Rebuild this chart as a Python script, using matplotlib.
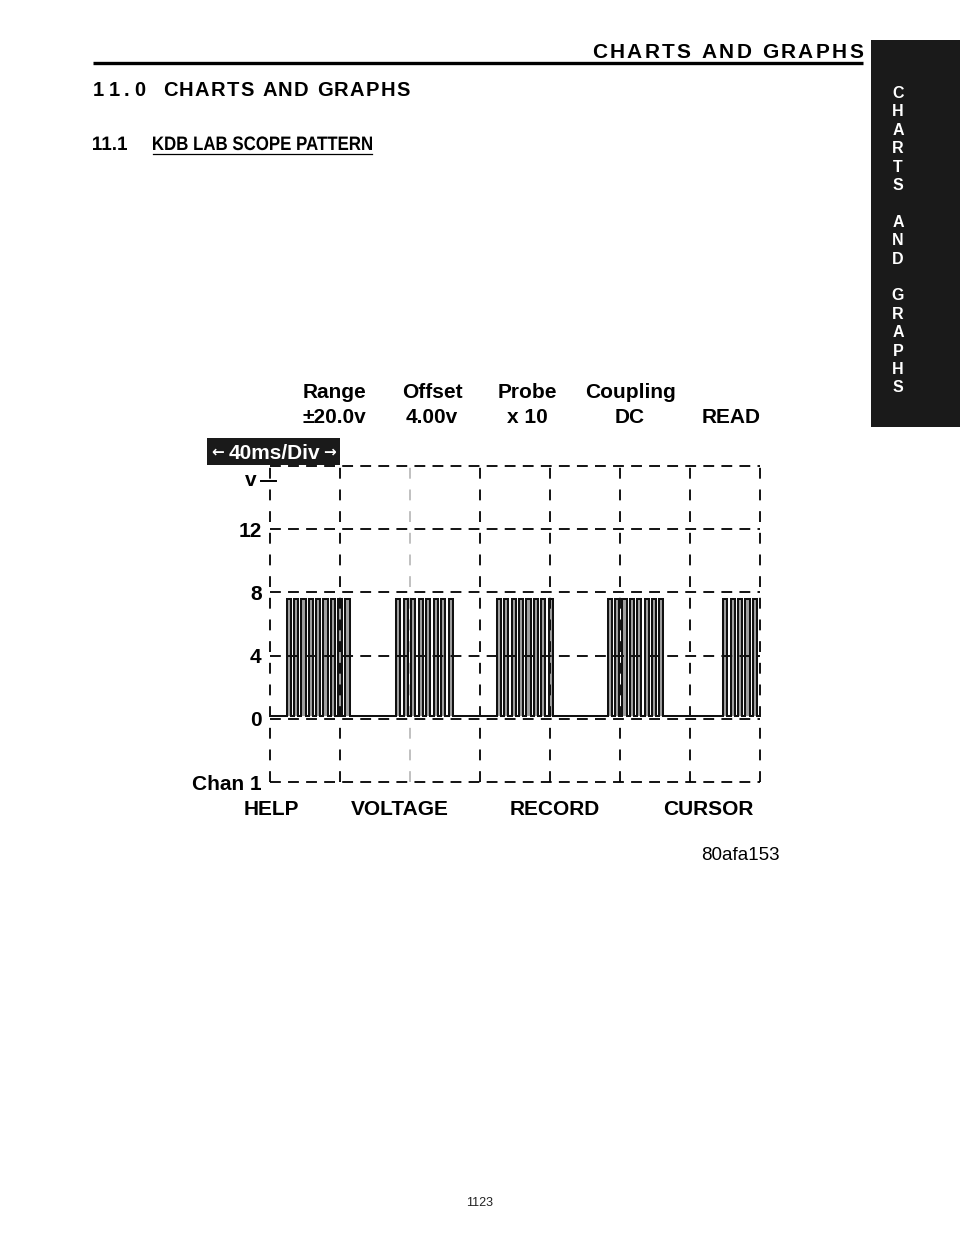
import matplotlib
matplotlib.use('Agg')
import matplotlib.pyplot as plt
from matplotlib.patches import Rectangle, PathPatch
from matplotlib.textpath import TextPath
from matplotlib.font_manager import FontProperties
from matplotlib.transforms import Affine2D

# scope trace: time in ms, level in volts
burst_start = [9.5, 72.0, 129.5, 193.0, 259.0]
burst_pulses = [9, 8, 8, 8, 5]
pulse_period = [4.2, 4.3, 4.25, 4.2, 4.2]
pulse_high = 2.4
v_high = 7.6
v_low = 0.2
t_end = 280

time_divs = [0, 40, 80, 120, 160, 200, 240, 280]
volt_divs = [-4, 0, 4, 8, 12, 16]
volt_ticks = [-4, 0, 4, 8, 12]
volt_labels = ['Chan 1', '0', '4', '8', '12']

scope_head = [('Range', '±20.0v'), ('Offset', '4.00v'), ('Probe', 'x 10'),
              ('Coupling', 'DC'), ('', 'READ')]
soft_keys = ['HELP', 'VOLTAGE', 'RECORD', 'CURSOR']

plt.rcParams['font.family'] = ['Liberation Sans', 'DejaVu Sans']

fig = plt.figure(figsize=(9.6, 12.42), dpi=100)
page = fig.add_axes([0, 0, 1, 1])
page.set_xlim(0, 960)
page.set_ylim(1242, 0)
page.axis('off')
renderer = fig.canvas.get_renderer()


def measure(s, **kw):
    if s == ' ':
        return 0.28 * kw.get('fontsize', 10) * 100 / 72
    t = page.text(0, 0, s, **kw)
    w = t.get_window_extent(renderer).width
    t.remove()
    return w


def tracked(x0, x1, y, s, **kw):
    # letter-spaced text stretched between x0 and x1
    widths = [measure(c, **kw) for c in s]
    gap = (x1 - x0 - sum(widths)) / (len(s) - 1)
    x = x0
    for c, w in zip(s, widths):
        page.text(x, y, c, ha='left', va='baseline', **kw)
        x += w + gap


def narrow_text(x, y, s, size, width):
    # condensed bold text, squeezed to the given width
    tp = TextPath((0, 0), s, size=size,
                  prop=FontProperties(family='Liberation Sans', weight='bold'))
    ext = tp.get_extents()
    sx = width / ext.width
    tr = Affine2D().translate(-ext.x0, 0).scale(sx, -1).translate(x, y) + page.transData
    page.add_patch(PathPatch(tp, transform=tr, color='black', lw=0))


# page header
tracked(592, 863, 58, 'CHARTS AND GRAPHS', fontsize=15, fontweight='bold')
page.plot([93, 863], [63, 63], color='black', lw=2.4, solid_capstyle='butt')
tracked(93, 145, 96, '11.0', fontsize=14.5, fontweight='bold')
tracked(163, 410, 96, 'CHARTS AND GRAPHS', fontsize=14.5, fontweight='bold')
narrow_text(93, 150, '11.1', 19.5, 34)
narrow_text(153, 150, 'KDB LAB SCOPE PATTERN', 19.5, 219)
page.plot([153, 372], [153.5, 153.5], color='black', lw=0.9)

# side tab
page.add_patch(Rectangle((871, 40), 89, 387, color='#1a1a1a', lw=0))
for i, c in enumerate('CHARTS AND GRAPHS'):
    page.text(898, 98 + i * 18.4, c, color='white', fontsize=11.5, fontweight='bold',
              ha='center', va='baseline')

# scope settings
head_x = [334, 432, 527, 630, 731]
for x, (top, bot) in zip(head_x, scope_head):
    page.text(x, 398, top, fontsize=15, fontweight='bold', ha='center', va='baseline')
    page.text(x, 423, bot, fontsize=15, fontweight='bold', ha='center', va='baseline')

page.add_patch(Rectangle((207, 438), 133, 27, color='#1a1a1a', lw=0))
page.text(274, 459, '40ms/Div', color='white', fontsize=15, fontweight='bold',
          ha='center', va='baseline')
page.text(218, 452, '←', color='white', fontsize=11, fontweight='bold',
          family='DejaVu Sans', ha='center', va='center')
page.text(330, 452, '→', color='white', fontsize=11, fontweight='bold',
          family='DejaVu Sans', ha='center', va='center')

page.text(251, 486, 'v', fontsize=15, fontweight='bold', ha='center', va='baseline')
page.plot([261, 276], [480.5, 480.5], color='black', lw=1.4)

key_x = [271, 400, 555, 708]
for x, k in zip(key_x, soft_keys):
    page.text(x, 815, k, fontsize=15, fontweight='bold', ha='center', va='baseline')

page.text(780, 860, '80afa153', fontsize=13.5, ha='right', va='baseline')
page.text(480, 1206, '1123', fontsize=9, ha='center', va='baseline', color='#222222')

# scope screen
ax = fig.add_axes([270 / 960, 1 - 782 / 1242, 490 / 960, 316 / 1242])
ax.set_xlim(0, t_end)
ax.set_ylim(volt_divs[0], volt_divs[-1])
ax.patch.set_alpha(0)
for s in ax.spines.values():
    s.set_visible(False)
ax.set_xticks([])
ax.set_yticks(volt_ticks)
ax.set_yticklabels(volt_labels, fontsize=15, fontweight='bold')
ax.tick_params(axis='y', length=0, pad=6)

for t in time_divs:
    col = '#bbbbbb' if t == 80 else 'black'
    ax.axvline(t, color=col, lw=1.3, dashes=(6, 6), clip_on=False, zorder=3)
for v in volt_divs:
    ax.axhline(v, color='black', lw=1.3, dashes=(6, 4), clip_on=False, zorder=3)

t = [0]
v = [v_low]
for s, n, p in zip(burst_start, burst_pulses, pulse_period):
    for k in range(n):
        r = s + k * p
        f = r + pulse_high
        t += [r, r, f, f]
        v += [v_low, v_high, v_high, v_low]
t.append(t_end)
v.append(v_low)

ax.fill_between(t, v, v_low, color='#a0a0a0', lw=0, zorder=1)
ax.plot(t, v, color='#111111', lw=1.45, zorder=4, solid_joinstyle='miter')

fig.savefig('out.png', dpi=100)
